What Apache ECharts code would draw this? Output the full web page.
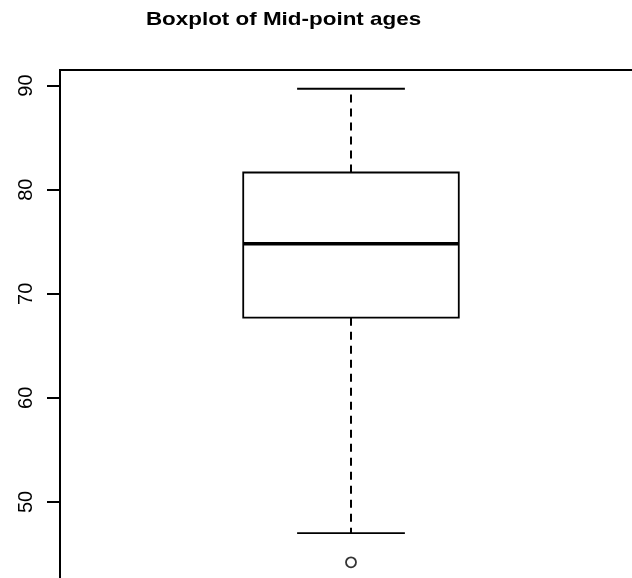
<!DOCTYPE html>
<html>
<head>
<meta charset="utf-8">
<title>Boxplot of Mid-point ages</title>
<script src="https://cdn.jsdelivr.net/npm/echarts@6/dist/echarts.min.js"></script>
<style>
  html, body { margin: 0; padding: 0; background: #ffffff; overflow: hidden; }
  /* The plot frame runs past the right and bottom edges of the page */
  #chart { width: 700px; height: 640px; }
</style>
</head>
<body>
<div id="chart"></div>
<script>
// Five-number summary: [lower whisker, Q1, median, Q3, upper whisker]
var boxStats = [47.0, 67.7, 74.8, 81.65, 89.7];
// Points beyond the whiskers
var outliers = [44.2];
// Labelled ticks on the age axis
var yTicks = [50, 60, 70, 80, 90];
var titleText = 'Boxplot of Mid-point ages';

var BOX_POS = 1;      // x position of the single box
var BOX_WEX = 0.4;    // box width in x units
var STAPLE = 0.5;     // whisker cap width relative to box width
var FONT = '"Liberation Sans", Arial, Helvetica, sans-serif';

var chart = echarts.init(document.getElementById('chart'), null, { renderer: 'canvas' });

function renderBox(params, api) {
  var x = api.value(0);
  var lo = api.coord([x, api.value(1)]);
  var q1 = api.coord([x, api.value(2)]);
  var md = api.coord([x, api.value(3)]);
  var q3 = api.coord([x, api.value(4)]);
  var hi = api.coord([x, api.value(5)]);
  var half = api.size([BOX_WEX, 0])[0] / 2;
  var capHalf = half * STAPLE;
  var cx = md[0];
  var solid = { stroke: '#000', lineWidth: 1.8, fill: null };
  var dashed = { stroke: '#000', lineWidth: 2, lineDash: [8, 6], fill: null };
  return {
    type: 'group',
    children: [
      // whiskers, drawn outward from the box
      { type: 'line', shape: { x1: cx, y1: q1[1], x2: cx, y2: lo[1] }, style: dashed },
      { type: 'line', shape: { x1: cx, y1: q3[1], x2: cx, y2: hi[1] }, style: dashed },
      // whisker caps
      { type: 'line', shape: { x1: cx - capHalf, y1: lo[1], x2: cx + capHalf, y2: lo[1] }, style: solid },
      { type: 'line', shape: { x1: cx - capHalf, y1: hi[1], x2: cx + capHalf, y2: hi[1] }, style: solid },
      // box
      { type: 'rect', shape: { x: cx - half, y: q3[1], width: 2 * half, height: q1[1] - q3[1] },
        style: { stroke: '#000', lineWidth: 1.8, fill: '#fff' } },
      // median
      { type: 'line', shape: { x1: cx - half, y1: md[1], x2: cx + half, y2: md[1] },
        style: { stroke: '#000', lineWidth: 3.6 } }
    ]
  };
}

var option = {
  backgroundColor: '#ffffff',
  animation: false,
  graphic: [{
    type: 'text',
    x: 283.5,
    y: 10,
    scaleX: 1.18,
    style: {
      text: titleText,
      x: 0,
      y: 0,
      align: 'center',
      verticalAlign: 'top',
      font: 'bold 19px ' + FONT,
      fill: '#000'
    }
  }],
  grid: {
    left: 60,
    top: 70,
    width: 582,
    height: 536,
    show: true,
    borderColor: '#000',
    borderWidth: 2,
    backgroundColor: 'transparent'
  },
  xAxis: {
    type: 'value',
    min: 0.46,
    max: 1.54,
    show: false
  },
  yAxis: {
    type: 'value',
    min: 40,
    max: 91.5,
    axisLine: { show: true, lineStyle: { color: '#000', width: 2 } },
    axisTick: {
      show: true,
      length: 13,
      customValues: yTicks,
      lineStyle: { color: '#000', width: 2 }
    },
    axisLabel: {
      show: true,
      customValues: yTicks,
      rotate: 90,
      margin: 24,
      fontSize: 20,
      fontFamily: FONT,
      color: '#000'
    },
    splitLine: { show: false }
  },
  series: [
    {
      type: 'custom',
      renderItem: renderBox,
      encode: { x: 0, y: [1, 2, 3, 4, 5] },
      data: [[BOX_POS].concat(boxStats)],
      z: 2
    },
    {
      type: 'scatter',
      symbol: 'circle',
      symbolSize: 10,
      itemStyle: { color: '#fff', borderColor: '#000', borderWidth: 1.8 },
      data: outliers.map(function (v) { return [BOX_POS, v]; }),
      z: 3
    }
  ]
};

chart.setOption(option);
</script>
</body>
</html>
